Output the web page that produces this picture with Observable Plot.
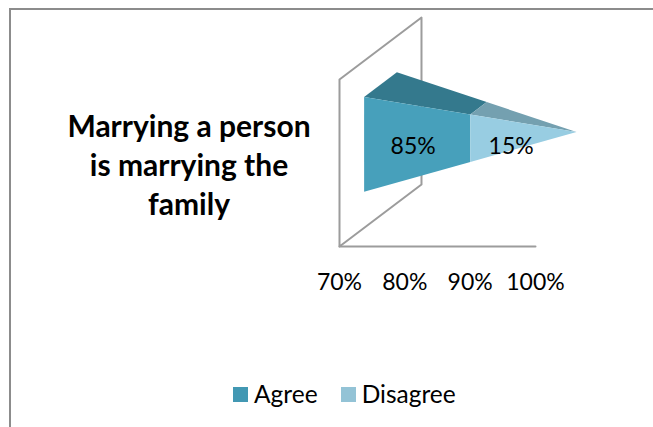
<!DOCTYPE html>
<html>
<head>
<meta charset="utf-8">
<script src="https://cdn.jsdelivr.net/npm/d3@7"></script>
<script src="https://cdn.jsdelivr.net/npm/@observablehq/plot@0.6"></script>
<style>
  html, body { margin: 0; background: #fff; }
  #frame { position: relative; width: 653px; height: 427px; overflow: hidden; font-family: Lato, sans-serif; color: #000; }
  #border { position: absolute; left: 9px; top: 8px; right: -4px; bottom: -4px; border: 2px solid #8c8c8c; }
  #title { position: absolute; left: 39px; top: 106px; width: 300px; text-align: center; font-weight: 700; font-size: 30px; line-height: 39px; }
  #legend { position: absolute; left: 233px; top: 378px; display: flex; align-items: center; font-size: 24.5px; line-height: 32px; white-space: nowrap; }
  #legend i { display: inline-block; width: 15px; height: 15px; margin-right: 6px; }
  #legend span { margin-right: 23px; }
  svg { position: absolute; left: 0; top: 0; }
</style>
</head>
<body>
<div id="frame">
  <div id="border"></div>
  <div id="plot"></div>
  <div id="title">Marrying a person<br>is marrying the<br>family</div>
  <div id="legend"></div>
</div>
<script>
const categories = ["Agree", "Disagree"];
const shares = [85, 15];
const axisTicks = [70, 80, 90, 100];
const frontColors = ["#47a0bb", "#98cde2"];
const topColors = ["#34798d", "#74a0b0"];
const legendColors = ["#4298b3", "#93c3d6"];

const axisMin = axisTicks[0];
const axisMax = axisTicks[axisTicks.length - 1];

// Oblique projection of the 3-D chart box: depth 0 is the front, 1 the back.
const depthToValue = 12.55;
const depthToHeight = 0.371;
const project = (value, height, depth) => ({
  x: value + depth * depthToValue,
  y: height + depth * depthToHeight
});

// A point on the pyramid, which narrows from the base at axisMin to its apex at axisMax.
const halfHeight = 0.284;
const halfDepth = 0.2;
const pyramid = (value, side, front) => {
  const s = (axisMax - value) / (axisMax - axisMin);
  return project(value, 0.5 + side * s * halfHeight, 0.5 + front * s * halfDepth);
};

let from = axisMin;
const segments = categories.map((name, i) => {
  // The first share ends at its own value on the axis; the next one stacks up to the apex.
  const to = i === 0 ? shares[0] : shares[0] + shares[1];
  const seg = {name, from, to, share: shares[i], i};
  from = to;
  return seg;
});

const faceFront = s => [
  pyramid(s.from, 1, -1), pyramid(s.to, 1, -1), pyramid(s.to, -1, -1), pyramid(s.from, -1, -1)
];
const faceTop = s => [
  pyramid(s.from, 1, -1), pyramid(s.to, 1, -1), pyramid(s.to, 1, 1), pyramid(s.from, 1, 1)
];

const wall = [
  project(axisMin, 0, 0), project(axisMin, 1, 0), project(axisMin, 1, 1),
  project(axisMin, 0, 1), project(axisMin, 0, 0)
];
const floor = [project(axisMin, 0, 0), project(axisMax, 0, 0)];

const faceMark = (points, fill) => Plot.line([...points, points[0]], {x: "x", y: "y", fill, stroke: "none", curve: "linear"});

const plot = Plot.plot({
  width: 653,
  height: 427,
  marginLeft: 339,
  marginRight: 118,
  marginTop: 79,
  marginBottom: 181,
  style: {fontFamily: "Lato, sans-serif", background: "transparent", overflow: "visible"},
  x: {domain: [axisMin, axisMax]},
  y: {domain: [0, 1]},
  marks: [
    Plot.line(wall, {x: "x", y: "y", stroke: "#9c9c9c", strokeWidth: 2}),
    Plot.line(floor, {x: "x", y: "y", stroke: "#9c9c9c", strokeWidth: 2}),
    segments.map(s => faceMark(faceTop(s), topColors[s.i])),
    segments.map(s => faceMark(faceFront(s), frontColors[s.i])),
    Plot.text(segments, {
      x: s => project((s.from + s.to) / 2, 0.5, 0.3).x,
      y: () => project(0, 0.5, 0.3).y - 0.012,
      text: s => `${s.share}%`,
      fontSize: 23,
      fill: "#000"
    }),
    Plot.axisX({
      ticks: axisTicks,
      tickSize: 0,
      tickPadding: 27,
      tickFormat: d => `${d}%`,
      fontSize: 23,
      color: "#000",
      label: null
    }),
    Plot.axisY({ticks: [], label: null})
  ]
});
document.getElementById("plot").appendChild(plot);

const legend = document.getElementById("legend");
categories.forEach((name, i) => {
  const swatch = document.createElement("i");
  swatch.style.background = legendColors[i];
  const label = document.createElement("span");
  label.textContent = name;
  legend.append(swatch, label);
});
</script>
</body>
</html>
